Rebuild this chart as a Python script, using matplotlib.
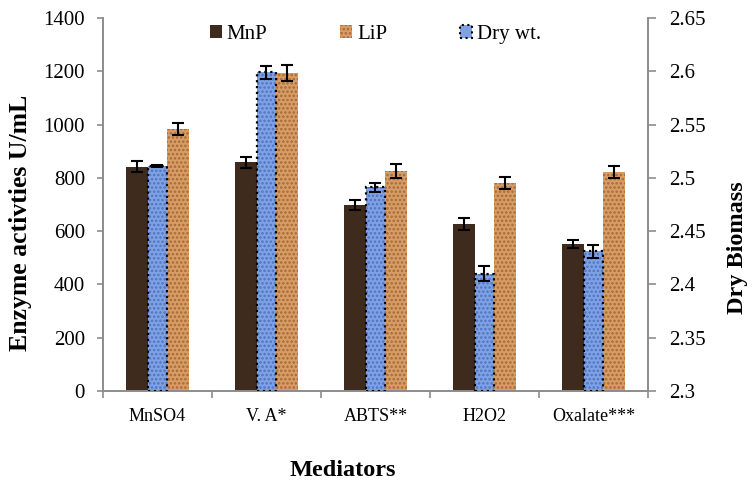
import numpy as np
import matplotlib
matplotlib.use("Agg")
from matplotlib import pyplot as plt
from matplotlib.patches import Patch

plt.rcParams['font.family'] = ['Liberation Serif', 'DejaVu Serif']
plt.rcParams['hatch.linewidth'] = 1.2

# data
mediators = ['MnSO4', 'V. A*', 'ABTS**', 'H2O2', 'Oxalate***']
mnp = [842, 858, 698, 627, 552]
mnp_err = [20, 20, 19, 24, 15]
lip = [983, 1192, 826, 781, 822]
lip_err = [22, 30, 26, 21, 22]
dry_wt = [2.511, 2.599, 2.491, 2.410, 2.431]
dry_err = [0.001, 0.006, 0.004, 0.007, 0.006]

left_ticks = [0, 200, 400, 600, 800, 1000, 1200, 1400]
right_ticks = [2.3, 2.35, 2.4, 2.45, 2.5, 2.55, 2.6, 2.65]
right_labels = ['2.3', '2.35', '2.4', '2.45', '2.5', '2.55', '2.6', '2.65']

grey = '#8c8c8c'
brown = '#3f2b1d'
tan = '#d69d64'
blue = '#7ea2e4'

fig = plt.figure(figsize=(7.53, 4.83), dpi=100)
ax = fig.add_axes([103/753, 1-391/483, 545/753, 373/483])
ax2 = ax.twinx()

x = np.arange(len(mediators))
w = 0.202
off = 0.188

# MnP and LiP on the left axis
ax.bar(x - off, mnp, w, color=brown, zorder=2)
ax.errorbar(x - off, mnp, yerr=mnp_err, fmt='none', ecolor='black',
            elinewidth=1.5, capsize=4, capthick=1.5, zorder=3)
ax.bar(x + off, lip, w, color=tan, edgecolor='#a8683a', hatch='....',
       linewidth=0, zorder=2)
ax.errorbar(x + off, lip, yerr=lip_err, fmt='none', ecolor='black',
            elinewidth=1.5, capsize=4, capthick=1.5, zorder=3)

# dry weight on the right axis, in the middle
bw = 0.17
ax2.bar(x, np.array(dry_wt) - 2.3, bw, bottom=2.3, color=blue,
        edgecolor='#4f74c0', hatch='....', linewidth=0, zorder=2)
ax2.bar(x, np.array(dry_wt) - 2.3, bw, bottom=2.3, fill=False,
        edgecolor='black', linestyle=':', linewidth=1.6, zorder=3)
ax2.errorbar(x, dry_wt, yerr=dry_err, fmt='none', ecolor='black',
             elinewidth=1.5, capsize=4, capthick=1.5, zorder=4)

ax.set_xlim(-0.5, len(mediators) - 0.5)
ax.set_ylim(0, 1400)
ax.set_yticks(left_ticks)
ax2.set_ylim(2.3, 2.65)
ax2.set_yticks(right_ticks)
ax2.set_yticklabels(right_labels)

ax.set_xticks(x)
ax.set_xticklabels(mediators, fontsize=13)
ax.set_xticks(np.arange(len(mediators) + 1) - 0.5, minor=True)
ax.tick_params(axis='x', which='major', length=0, pad=12)
ax.tick_params(axis='x', which='minor', length=5, color=grey, width=1.2)
ax.tick_params(axis='y', labelsize=15, color=grey, length=4, width=1.2, pad=9)
ax2.tick_params(axis='y', labelsize=15, color=grey, length=6, width=1.2,
                direction='out', pad=9)

for a in (ax, ax2):
    a.spines['top'].set_visible(False)
    for s in ('left', 'right', 'bottom'):
        a.spines[s].set_color(grey)
        a.spines[s].set_linewidth(1.2)

ax.set_ylabel('Enzyme activties U/mL', fontsize=18.5, fontweight='bold')
ax.yaxis.set_label_coords(-0.151, 0.45)
ax.yaxis.label.set_va('center')
ax2.set_ylabel('Dry Biomass', fontsize=17.5, fontweight='bold')
ax2.yaxis.set_label_coords(1.165, 0.385)
ax2.yaxis.label.set_va('center')
ax.set_xlabel('Mediators', fontsize=17.5, fontweight='bold')
ax.xaxis.set_label_coords(0.44, -0.214)
ax.xaxis.label.set_va('center')

handles = [Patch(facecolor=brown),
           Patch(facecolor=tan, edgecolor='#a8683a', hatch='....', linewidth=0),
           Patch(facecolor=blue, edgecolor='black', linestyle=':', linewidth=1.5)]
ax2.legend(handles, ['MnP', 'LiP', 'Dry wt.'], loc='upper center',
           bbox_to_anchor=(0.5, 1.032), ncol=3, frameon=False, fontsize=15,
           handlelength=0.55, handleheight=0.55, handletextpad=0.25,
           columnspacing=3.5)

fig.savefig('out.png', dpi=100)
